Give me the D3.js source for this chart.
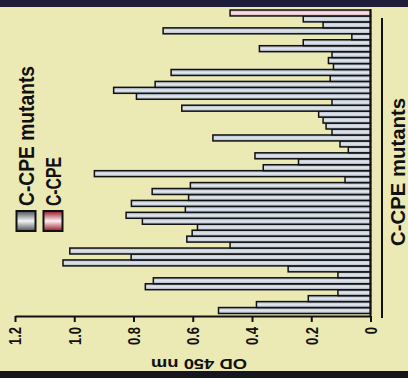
<!DOCTYPE html>
<html>
<head>
<meta charset="utf-8">
<script src="https://cdn.jsdelivr.net/npm/d3@7"></script>
<style>
  html, body { margin: 0; padding: 0; background: #ebe9b4; }
  svg { display: block; }
  text { font-family: "Liberation Sans", Arial, sans-serif; font-weight: bold; fill: #111; }
</style>
</head>
<body>
<div id="chart"></div>
<script>
const w = 408;
const h = 378;

// OD values, first mutant at the bottom of the picture, C-CPE control on top
const mutantOD = [0.513, 0.385, 0.21, 0.11, 0.76, 0.733, 0.11, 0.278, 1.038, 0.808,
                  1.015, 0.474, 0.62, 0.602, 0.584, 0.77, 0.825, 0.625, 0.807, 0.614,
                  0.737, 0.608, 0.086, 0.932, 0.362, 0.243, 0.39, 0.075, 0.103, 0.532,
                  0.13, 0.15, 0.16, 0.175, 0.637, 0.13, 0.79, 0.867, 0.727, 0.136,
                  0.673, 0.125, 0.142, 0.13, 0.375, 0.227, 0.063, 0.70, 0.16, 0.227];
const controlOD = [0.474];
const tickValues = [0, 0.2, 0.4, 0.6, 0.8, 1.0, 1.2];
const tickLabels = ["0", "0.2", "0.4", "0.6", "0.8", "1.0", "1.2"];
const legendLabels = ["C-CPE mutants", "C-CPE"];
const valueTitle = "OD 450 nm";
const groupTitle = "C-CPE mutants";

const bars = mutantOD.map((v, i) => ({id: "m" + (i + 1), v: v, kind: "mutant"}))
    .concat(controlOD.map((v, i) => ({id: "c" + (i + 1), v: v, kind: "control"})));

let svg = d3.select("div#chart").append("svg")
    .attr("width", w).attr("height", h)
    .style("background-color", "#ebe9b4");

// gradients (metallic look)
let defs = svg.append("defs");
const grad = (id, edge, mid) => {
    let g = defs.append("linearGradient").attr("id", id)
        .attr("x1", 0).attr("y1", 0).attr("x2", 0).attr("y2", 1);
    g.append("stop").attr("offset", "0%").attr("stop-color", edge);
    g.append("stop").attr("offset", "50%").attr("stop-color", mid);
    g.append("stop").attr("offset", "100%").attr("stop-color", edge);
};
grad("barMut", "#aab4c2", "#e2e8ef");
grad("barCtl", "#dca8b6", "#f8e6ea");
grad("swMut", "#4c5054", "#f2f5f6");
grad("swCtl", "#961626", "#fff0f2");

// dark frame bands
svg.append("rect").attr("x", 0).attr("y", 0).attr("width", w).attr("height", 7).attr("fill", "#1e1e3a");
svg.append("rect").attr("x", 0).attr("y", 371).attr("width", w).attr("height", 7).attr("fill", "#16161f");

let x = d3.scaleLinear().domain([0, 1.2]).range([370.5, 15]);
let y = d3.scaleBand().domain(bars.map(d => d.id)).range([313.5, 10]).padding(0);

svg.selectAll("rect.bar")
    .data(bars)
    .join("rect")
    .attr("class", "bar")
    .attr("x", d => x(d.v))
    .attr("y", d => y(d.id))
    .attr("width", d => x(0) - x(d.v))
    .attr("height", y.bandwidth())
    .attr("fill", d => d.kind === "control" ? "url(#barCtl)" : "url(#barMut)")
    .attr("stroke", "#111")
    .attr("stroke-width", 1.5);

// zero line
svg.append("line")
    .attr("x1", x(0)).attr("x2", x(0))
    .attr("y1", 9).attr("y2", 316)
    .attr("stroke", "#111").attr("stroke-width", 2);

// value axis
let axis = d3.axisBottom(x)
    .tickValues(tickValues)
    .tickFormat((d, i) => tickLabels[i])
    .tickSize(6)
    .tickSizeOuter(0);

let gAxis = svg.append("g")
    .attr("transform", "translate(0,316)")
    .call(axis);
gAxis.select(".domain").attr("stroke", "#111").attr("stroke-width", 2);
gAxis.selectAll(".tick line").attr("stroke", "#111").attr("stroke-width", 2);
gAxis.selectAll(".tick text")
    .attr("x", -11).attr("y", 0).attr("dy", "0.35em")
    .attr("text-anchor", "end")
    .attr("transform", "rotate(-90) scale(1,1.3)")
    .style("font-size", "13px")
    .style("font-family", "Liberation Sans, Arial, sans-serif")
    .style("font-weight", "bold")
    .attr("fill", "#111");

// value axis title (upside down)
svg.append("text")
    .attr("transform", "translate(199,364) rotate(180)")
    .attr("text-anchor", "middle")
    .attr("dy", "0.35em")
    .attr("textLength", 96)
    .attr("lengthAdjust", "spacingAndGlyphs")
    .style("font-size", "15px")
    .text(valueTitle);

// group line and title on the right
svg.append("line")
    .attr("x1", 382).attr("x2", 382)
    .attr("y1", 18).attr("y2", 318)
    .attr("stroke", "#111").attr("stroke-width", 2);

svg.append("text")
    .attr("transform", "translate(398,172) rotate(-90) scale(1,1.1)")
    .attr("text-anchor", "middle")
    .attr("dy", "0.35em")
    .attr("textLength", 148)
    .attr("lengthAdjust", "spacingAndGlyphs")
    .style("font-size", "18px")
    .text(groupTitle);

// legend
let legend = svg.selectAll("g.legend")
    .data(legendLabels)
    .join("g")
    .attr("class", "legend")
    .attr("transform", (d, i) => "translate(" + (26 + i * 27) + ",0)");

legend.append("rect")
    .attr("x", -9.5).attr("y", 211)
    .attr("width", 19).attr("height", 20)
    .attr("fill", (d, i) => i === 0 ? "url(#swMut)" : "url(#swCtl)")
    .attr("stroke", "#111").attr("stroke-width", 2);

legend.append("text")
    .attr("transform", "translate(0,206) rotate(-90) scale(1,1.2)")
    .attr("dy", "0.35em")
    .attr("text-anchor", "start")
    .attr("textLength", (d, i) => i === 0 ? 140 : 49)
    .attr("lengthAdjust", "spacingAndGlyphs")
    .style("font-size", "18px")
    .text(d => d);
</script>
</body>
</html>
